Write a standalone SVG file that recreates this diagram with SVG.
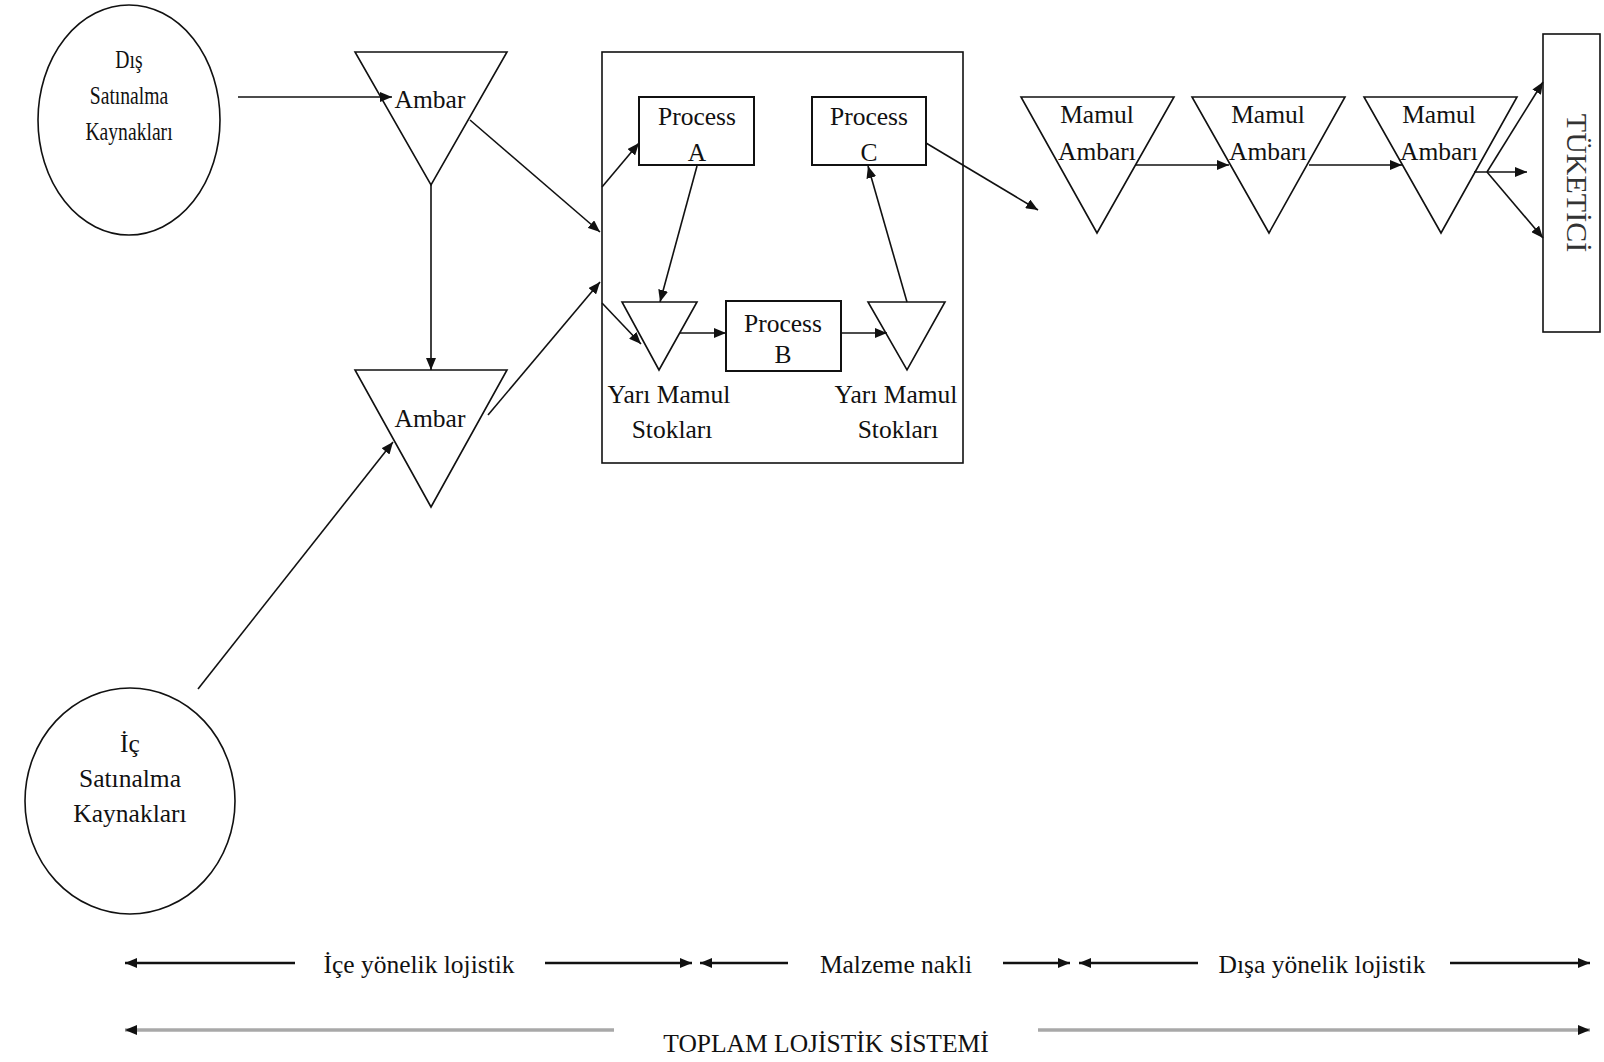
<svg xmlns="http://www.w3.org/2000/svg" width="1604" height="1062" viewBox="0 0 1604 1062">
<style>
  .t{font-family:"Liberation Serif","Times New Roman",serif;font-size:25.5px;fill:#111;text-anchor:middle}
  .s{fill:none;stroke:#111;stroke-width:1.6}
  .b{fill:#fff;stroke:#111;stroke-width:2}
  .c{fill:none;stroke:#111;stroke-width:1.6}
  .ax{fill:none;stroke:#111;stroke-width:2.5}
  .ag{fill:none;stroke:#a8a8a8;stroke-width:3.5}
</style>
<defs>
  <marker id="ah" markerUnits="userSpaceOnUse" markerWidth="13" markerHeight="10" refX="12" refY="5" orient="auto">
    <path d="M0,0 L12,5 L0,10 z" fill="#111"/>
  </marker>
</defs>
<rect width="1604" height="1062" fill="#fff"/>

<g id="dis-kaynak">
  <ellipse class="s" cx="129" cy="120" rx="91" ry="115"/>
  <g transform="translate(129,0) scale(0.77,1)">
    <text class="t" x="0" y="68">Dış</text>
    <text class="t" x="0" y="104">Satınalma</text>
    <text class="t" x="0" y="140">Kaynakları</text>
  </g>
</g>
<g id="ic-kaynak">
  <ellipse class="s" cx="130" cy="801" rx="105" ry="113"/>
  <text class="t" x="130" y="752">İç</text>
  <text class="t" x="130" y="787">Satınalma</text>
  <text class="t" x="130" y="822">Kaynakları</text>
</g>
<g id="ambar1">
  <polygon class="s" points="355,52 507,52 431,185"/>
  <text class="t" x="430" y="108">Ambar</text>
</g>
<g id="ambar2">
  <polygon class="s" points="355,370 507,370 431,507"/>
  <text class="t" x="430" y="427">Ambar</text>
</g>
<g id="uretim">
  <rect class="s" x="602" y="52" width="361" height="411" stroke-width="2"/>
</g>
<g id="processA">
  <rect class="b" x="639" y="97" width="115" height="68"/>
  <text class="t" x="697" y="125">Process</text>
  <text class="t" x="697" y="161">A</text>
</g>
<g id="processB">
  <rect class="b" x="726" y="301" width="115" height="70"/>
  <text class="t" x="783" y="332">Process</text>
  <text class="t" x="783" y="363">B</text>
</g>
<g id="processC">
  <rect class="b" x="812" y="97" width="114" height="68"/>
  <text class="t" x="869" y="125">Process</text>
  <text class="t" x="869" y="161">C</text>
</g>
<g id="yarimamul1">
  <polygon class="s" points="622,302 697,302 659,370"/>
  <text class="t" x="669" y="403">Yarı Mamul</text>
  <text class="t" x="672" y="438">Stokları</text>
</g>
<g id="yarimamul2">
  <polygon class="s" points="868,302 945,302 907,370"/>
  <text class="t" x="896" y="403">Yarı Mamul</text>
  <text class="t" x="898" y="438">Stokları</text>
</g>
<g id="mamul1">
  <polygon class="s" points="1021,97 1174,97 1097,233"/>
  <text class="t" x="1097" y="123">Mamul</text>
  <text class="t" x="1097" y="160">Ambarı</text>
</g>
<g id="mamul2">
  <polygon class="s" points="1192,97 1345,97 1269,233"/>
  <text class="t" x="1268" y="123">Mamul</text>
  <text class="t" x="1268" y="160">Ambarı</text>
</g>
<g id="mamul3">
  <polygon class="s" points="1364,97 1517,97 1441,233"/>
  <text class="t" x="1439" y="123">Mamul</text>
  <text class="t" x="1439" y="160">Ambarı</text>
</g>
<g id="tuketici">
  <rect class="s" x="1543" y="34" width="57" height="298" stroke-width="2"/>
  <text class="t" transform="translate(1567,183) rotate(90)" x="0" y="0" style="font-size:30px;fill:#333">TÜKETİCİ</text>
</g>

<g id="connectors">
  <line class="c" x1="238" y1="97" x2="392" y2="97" marker-end="url(#ah)"/>
  <line class="c" x1="431" y1="185" x2="431" y2="370" marker-end="url(#ah)"/>
  <line class="c" x1="198" y1="689" x2="393" y2="442" marker-end="url(#ah)"/>
  <line class="c" x1="470" y1="120" x2="600" y2="232" marker-end="url(#ah)"/>
  <line class="c" x1="488" y1="415" x2="600" y2="282" marker-end="url(#ah)"/>
  <line class="c" x1="602" y1="187" x2="639" y2="143" marker-end="url(#ah)"/>
  <line class="c" x1="602" y1="303" x2="641" y2="344" marker-end="url(#ah)"/>
  <line class="c" x1="697" y1="166" x2="660" y2="302" marker-end="url(#ah)"/>
  <line class="c" x1="680" y1="333" x2="726" y2="333" marker-end="url(#ah)"/>
  <line class="c" x1="841" y1="333" x2="887" y2="333" marker-end="url(#ah)"/>
  <line class="c" x1="907" y1="302" x2="868" y2="166" marker-end="url(#ah)"/>
  <line class="c" x1="926" y1="143" x2="1038" y2="210" marker-end="url(#ah)"/>
  <line class="c" x1="1135" y1="165" x2="1229" y2="165" marker-end="url(#ah)"/>
  <line class="c" x1="1309" y1="165" x2="1402" y2="165" marker-end="url(#ah)"/>
  <line class="c" x1="1474" y1="172" x2="1527" y2="172" marker-end="url(#ah)"/>
  <line class="c" x1="1487" y1="172" x2="1543" y2="82" marker-end="url(#ah)"/>
  <line class="c" x1="1487" y1="172" x2="1543" y2="238" marker-end="url(#ah)"/>
</g>

<g id="lojistik-olcek">
  <line class="ax" x1="295" y1="963" x2="125" y2="963" marker-end="url(#ah)"/>
  <text class="t" x="419" y="973">İçe yönelik lojistik</text>
  <line class="ax" x1="545" y1="963" x2="692" y2="963" marker-end="url(#ah)"/>
  <line class="ax" x1="788" y1="963" x2="700" y2="963" marker-end="url(#ah)"/>
  <text class="t" x="896" y="973">Malzeme nakli</text>
  <line class="ax" x1="1003" y1="963" x2="1070" y2="963" marker-end="url(#ah)"/>
  <line class="ax" x1="1198" y1="963" x2="1079" y2="963" marker-end="url(#ah)"/>
  <text class="t" x="1322" y="973">Dışa yönelik lojistik</text>
  <line class="ax" x1="1450" y1="963" x2="1590" y2="963" marker-end="url(#ah)"/>

  <line class="ag" x1="614" y1="1030" x2="125" y2="1030" marker-end="url(#ah)"/>
  <text class="t" x="826" y="1052">TOPLAM LOJİSTİK SİSTEMİ</text>
  <line class="ag" x1="1038" y1="1030" x2="1590" y2="1030" marker-end="url(#ah)"/>
</g>
</svg>
